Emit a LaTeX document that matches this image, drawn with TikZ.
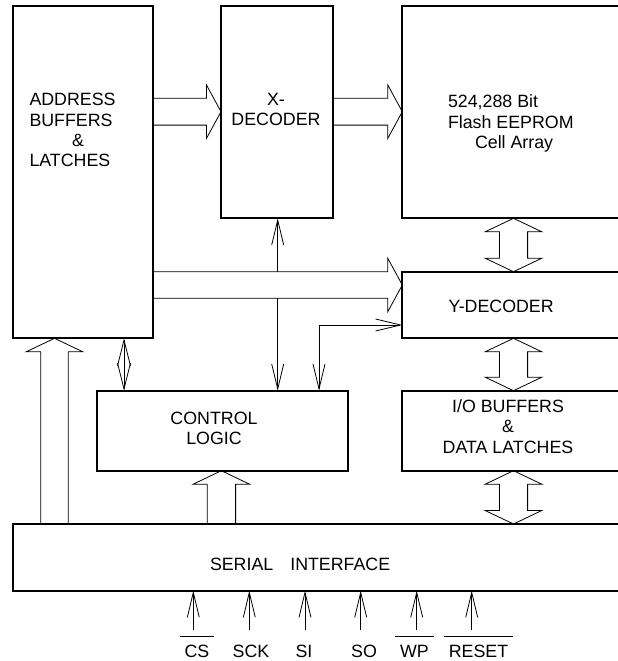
\documentclass[tikz,border=0pt]{standalone}
\usepackage{fontspec}
\setmainfont{Liberation Sans}
\usetikzlibrary{arrows.meta,calc}
\newcommand\wdarrow[2]{%
  \draw[ln] (#1 -| xc) -- ++(-28.3,13.5) -- ++(14.2,0) -- ($(#2 -| xc)+(-14.1,-13.5)$) -- ++(-14.2,0) -- (#2 -| xc) -- ++(28.3,-13.5) -- ++(-14.2,0) -- ($(#1 -| xc)+(14.1,13.5)$) -- ++(14.2,0) -- cycle;}
\begin{document}
\begin{tikzpicture}[x=1pt,y=-1pt,
  box/.style={draw,line width=1.8pt,inner sep=0pt,outer sep=0pt,anchor=north west},
  txt/.style={inner sep=0pt,outer sep=0pt,font=\fontsize{17.8}{20.4}\selectfont},
  ln/.style={line width=0.8pt,line join=miter},
  >={Straight Barb[length=25pt,width=12pt]}]
\useasboundingbox (0,0) rectangle (618,661);
\clip (0,0) rectangle (618,661);
% boxes
\node[box,minimum width=140pt,minimum height=332.3pt] (addr) at (13,6) {};
\node[box,minimum width=112pt,minimum height=212.3pt] (xdec) at (221,6) {};
\node[box,minimum width=240pt,minimum height=212.3pt] (flash) at (402.3,6) {};
\node[box,minimum width=240pt,minimum height=66.6pt] (ydec) at (402.3,271.7) {};
\node[box,minimum width=251.6pt,minimum height=80pt] (ctrl) at (96.7,390.7) {};
\node[box,minimum width=240pt,minimum height=80pt] (io) at (402.3,390.7) {};
\node[box,minimum width=640pt,minimum height=66.7pt] (serial) at (12.7,524) {};
% texts
\node[txt,align=left,anchor=north west] (addrt) at (29.5,93.3) {ADDRESS\\BUFFERS\\\hspace*{42.7pt}\&\\LATCHES};
\node[txt,align=center,anchor=north] (xdect) at (276,93.3) {X-\\DECODER};
\node[txt,align=left,anchor=north west] (flasht) at (448,95) {524,288 Bit\\Flash EEPROM\\\hspace*{27pt}Cell Array};
\node[txt,anchor=north west] (ydect) at (448.5,300) {Y-DECODER};
\node[txt,align=center,anchor=north] (ctrlt) at (214,411.7) {CONTROL\\LOGIC};
\node[txt,align=center,anchor=north] (iot) at (508,399.3) {I/O BUFFERS\\\&\\DATA LATCHES};
\node[txt,anchor=north west] (serialt) at (210,558.3) {SERIAL\hspace*{17pt}INTERFACE};
% pin labels
\node[txt,anchor=north] (lcs) at (197,645) {CS};
\node[txt,anchor=north] (lsck) at (251,645) {SCK};
\node[txt,anchor=north] (lsi) at (304,645) {SI};
\node[txt,anchor=north] (lso) at (364,645) {SO};
\node[txt,anchor=north] (lwp) at (414.5,645) {WP};
\node[txt,anchor=north] (lrst) at (478.5,645) {RESET};
\foreach \n in {lcs,lwp,lrst}
  \draw[ln] ([xshift=-5pt,yshift=8.3pt]\n.north west) -- ([xshift=5pt,yshift=8.3pt]\n.north east);
% pin arrows
\foreach \n/\x in {cs/193.3,sck/249.3,si/305,so/360.7,wp/416.7,rst/471.7}{
  \coordinate (p\n) at (\x,630);
  \draw[ln,->] (p\n) -- (serial.south -| p\n);
}
% helper coordinates
\coordinate (ya) at (0,111.7);
\coordinate (yb) at (0,285);
\coordinate (xa) at (54.5,0);
\coordinate (xb) at (221.4,0);
\coordinate (xc) at (513.5,0);
\coordinate (vx) at (277.7,0);
\coordinate (wx) at (319,0);
\coordinate (dx) at (124,0);
\coordinate (yc) at (0,325);
% wide arrows, horizontal
\draw[ln] ($(addr.east |- ya)+(0,-13.4)$) -- ($(xdec.west |- ya)+(-14.5,-13.4)$) -- ++(0,-13.3) -- (xdec.west |- ya) -- ++(-14.5,26.7) -- ++(0,-13.3) -- ($(addr.east |- ya)+(0,13.4)$);
\draw[ln] ($(xdec.east |- ya)+(0,-13.4)$) -- ($(flash.west |- ya)+(-14.5,-13.4)$) -- ++(0,-13.3) -- (flash.west |- ya) -- ++(-14.5,26.7) -- ++(0,-13.3) -- ($(xdec.east |- ya)+(0,13.4)$);
\draw[ln] ($(addr.east |- yb)+(0,-13.3)$) -- ($(ydec.west |- yb)+(-14.5,-13.3)$) -- ++(0,-13.4) -- (ydec.west |- yb) -- ++(-14.5,26.7) -- ++(0,-13.4) -- ($(addr.east |- yb)+(0,13.3)$);
% wide arrows, vertical
\draw[ln] ($(serial.north -| xa)+(-13.8,0)$) -- ($(addr.south -| xa)+(-13.8,13.5)$) -- ++(-14.5,0) -- (addr.south -| xa) -- ++(28.3,13.5) -- ++(-14.5,0) -- ($(serial.north -| xa)+(13.8,0)$);
\draw[ln] ($(serial.north -| xb)+(-14.2,0)$) -- ($(ctrl.south -| xb)+(-14.2,13.5)$) -- ++(-14,0) -- (ctrl.south -| xb) -- ++(28.2,13.5) -- ++(-14,0) -- ($(serial.north -| xb)+(14.2,0)$);
\wdarrow{flash.south}{ydec.north}
\wdarrow{ydec.south}{io.north}
\wdarrow{io.south}{serial.north}
% thin arrows
\coordinate (va) at (vx |- yb);
\draw[ln,->] ($(va)+(0,-13.3)$) -- (xdec.south -| vx);
\draw[ln,->] ($(va)+(0,13.3)$) -- (ctrl.north -| vx);
\draw[ln,<->] (ctrl.north -| wx) |- (ydec.west |- yc);
\draw[ln,<->,>={Straight Barb[length=26pt,width=13pt]}] (addr.south -| dx) -- (ctrl.north -| dx);
\end{tikzpicture}
\end{document}
